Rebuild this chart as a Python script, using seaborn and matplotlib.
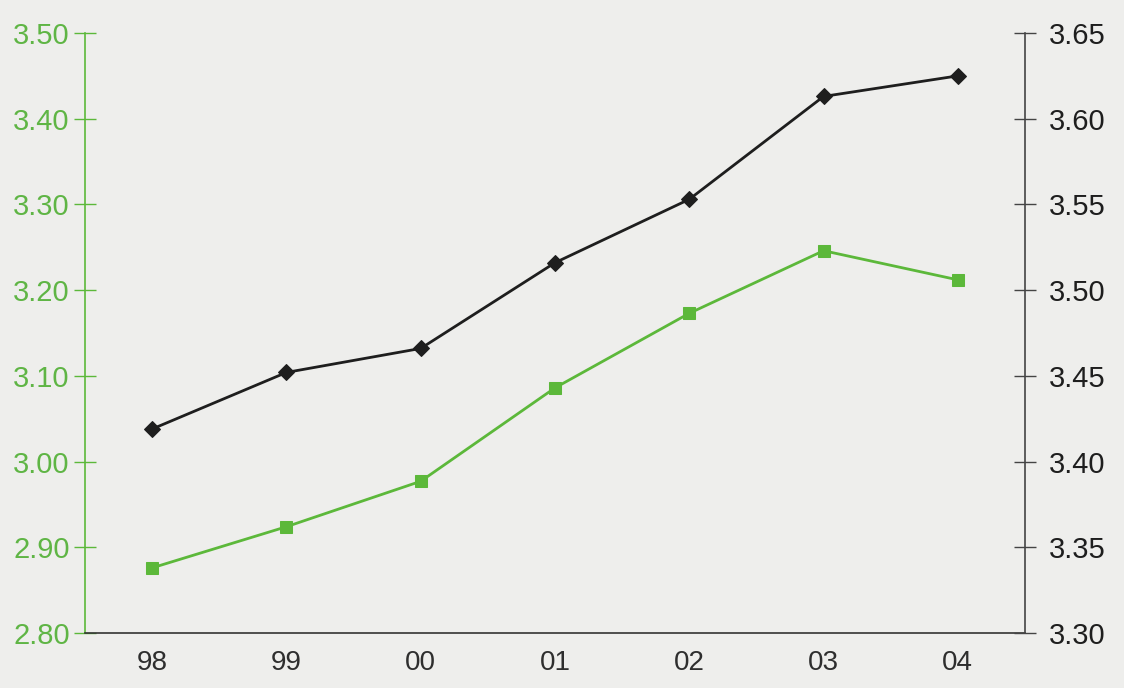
import matplotlib
matplotlib.use("Agg")
import matplotlib.pyplot as plt
import seaborn as sns
import pandas as pd
import numpy as np

years = ["98", "99", "00", "01", "02", "03", "04"]
green_vals = [2.876, 2.924, 2.977, 3.086, 3.173, 3.246, 3.212]
black_vals = [3.419, 3.452, 3.466, 3.516, 3.553, 3.613, 3.625]
left_ticks = [2.80, 2.90, 3.00, 3.10, 3.20, 3.30, 3.40, 3.50]
right_ticks = [3.30, 3.35, 3.40, 3.45, 3.50, 3.55, 3.60, 3.65]

sns.set_style("white")
plt.rcParams["font.family"] = ["Liberation Sans", "DejaVu Sans"]

GREEN = "#5cb83a"
GREEN_TXT = "#5fb545"
BLACK = "#1e1e1e"
BG = "#eeeeec"

df = pd.DataFrame({"year": years, "green": green_vals, "black": black_vals})
df["pos"] = np.arange(len(years))

fig = plt.figure(figsize=(11.24, 6.88), dpi=100, facecolor=BG)
ax = fig.add_axes([85 / 1124, 1 - 633 / 688, (1025 - 85) / 1124, (633 - 33) / 688])
ax.set_facecolor(BG)

sns.lineplot(data=df, x="pos", y="green", ax=ax, color=GREEN, lw=2.0,
             marker="s", markersize=8, markeredgecolor=GREEN, markerfacecolor=GREEN)
ax2 = ax.twinx()
sns.lineplot(data=df, x="pos", y="black", ax=ax2, color=BLACK, lw=2.0,
             marker="D", markersize=8.5, markeredgecolor=BLACK, markerfacecolor=BLACK)

ax.set_xlim(-0.5, len(years) - 0.5)
ax.set_ylim(2.80, 3.50)
ax2.set_ylim(3.30, 3.65)

ax.set_xticks(np.arange(len(years)))
ax.set_xticklabels(years)
ax.set_xticks(np.arange(len(years) + 1) - 0.5, minor=True)
ax.tick_params(axis="x", which="major", length=0, pad=12, labelsize=20, labelcolor="#2e2e2e")
ax.tick_params(axis="x", which="minor", length=9, width=1, color="#444444", direction="out")

ax.set_yticks(left_ticks)
ax.set_yticklabels([f"{v:.2f}" for v in left_ticks])
ax.tick_params(axis="y", direction="inout", length=16, width=1, color=GREEN,
               labelsize=21, labelcolor=GREEN_TXT, pad=3)

ax2.set_yticks(right_ticks)
ax2.set_yticklabels([f"{v:.2f}" for v in right_ticks])
ax2.tick_params(axis="y", direction="inout", length=16, width=1, color="#444444",
                labelsize=21, labelcolor=BLACK, pad=9)

for a in (ax, ax2):
    a.set_xlabel("")
    a.set_ylabel("")
    a.spines["top"].set_visible(False)
ax.spines["right"].set_visible(False)
ax.spines["left"].set_color(GREEN)
ax.spines["left"].set_linewidth(1.2)
ax.spines["bottom"].set_color("#333333")
ax.spines["bottom"].set_linewidth(1.2)
ax2.spines["left"].set_visible(False)
ax2.spines["bottom"].set_visible(False)
ax2.spines["right"].set_color("#444444")
ax2.spines["right"].set_linewidth(1.2)

fig.savefig("out.png", dpi=100, facecolor=BG)
